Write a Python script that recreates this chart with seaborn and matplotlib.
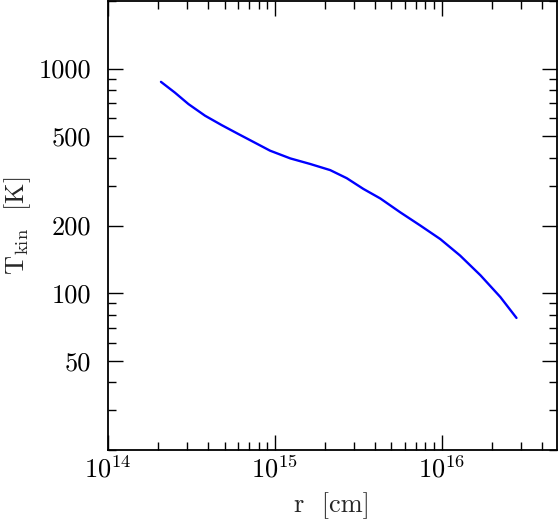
import numpy as np
import pandas as pd
import matplotlib
matplotlib.use('Agg')
import matplotlib.pyplot as plt
import matplotlib.ticker as mticker
import seaborn as sns

# radius [cm] and kinetic temperature [K]
r_cm = [2.08e14, 2.52e14, 3.04e14, 3.82e14, 4.81e14, 6.06e14, 7.55e14, 9.37e14,
        1.24e15, 1.63e15, 2.15e15, 2.70e15, 3.40e15, 4.29e15, 5.65e15, 7.45e15,
        9.82e15, 1.29e16, 1.71e16, 2.25e16, 2.81e16]
t_kin = [873, 782, 695, 617, 560, 511, 469, 431, 398, 376, 353, 325, 291, 264,
         229, 200, 174, 147, 120, 96, 77.5]

y_ticks = [50, 100, 200, 500, 1000]
x_ticks = [1e14, 1e15, 1e16]

df = pd.DataFrame({'r': r_cm, 'T': t_kin})

sns.set_style('ticks')
plt.rcParams['font.family'] = 'serif'
plt.rcParams['font.serif'] = ['cmr10', 'DejaVu Serif']
plt.rcParams['mathtext.fontset'] = 'cm'
plt.rcParams['axes.formatter.use_mathtext'] = True
plt.rcParams['font.size'] = 19

fig = plt.figure(figsize=(5.59, 5.19), dpi=100)
ax = fig.add_axes([0.193, 0.133, 0.803, 0.865])

sns.lineplot(data=df, x='r', y='T', color='#0000ff', linewidth=1.7, ax=ax)

ax.set_xscale('log')
ax.set_yscale('log')
ax.set_xlim(1e14, 4.9e16)
ax.set_ylim(20, 2000)

ax.set_xticks(x_ticks)
ax.xaxis.set_major_formatter(mticker.LogFormatterMathtext())
ax.xaxis.set_minor_locator(mticker.LogLocator(base=10, subs=np.arange(2, 10)))
ax.xaxis.set_minor_formatter(mticker.NullFormatter())

ax.set_yticks(y_ticks)
ax.yaxis.set_major_formatter(mticker.FixedFormatter([str(v) for v in y_ticks]))
ax.yaxis.set_minor_locator(mticker.LogLocator(base=10, subs=np.arange(2, 10)))
ax.yaxis.set_minor_formatter(mticker.NullFormatter())

ax.tick_params(which='both', direction='in', top=True, right=True, colors='black',
               width=1.0, labelsize=19)
ax.tick_params(axis='y', which='major', length=11, pad=12)
ax.tick_params(axis='x', which='major', length=11, pad=4)
ax.tick_params(which='minor', length=6)
for s in ax.spines.values():
    s.set_linewidth(1.3)
    s.set_color('black')

ax.set_xlabel('r  [cm]', fontsize=19, labelpad=7)
ax.set_ylabel(r'T$_{\rm kin}$  [K]', fontsize=19, labelpad=4)

fig.savefig('out.png', dpi=100)
